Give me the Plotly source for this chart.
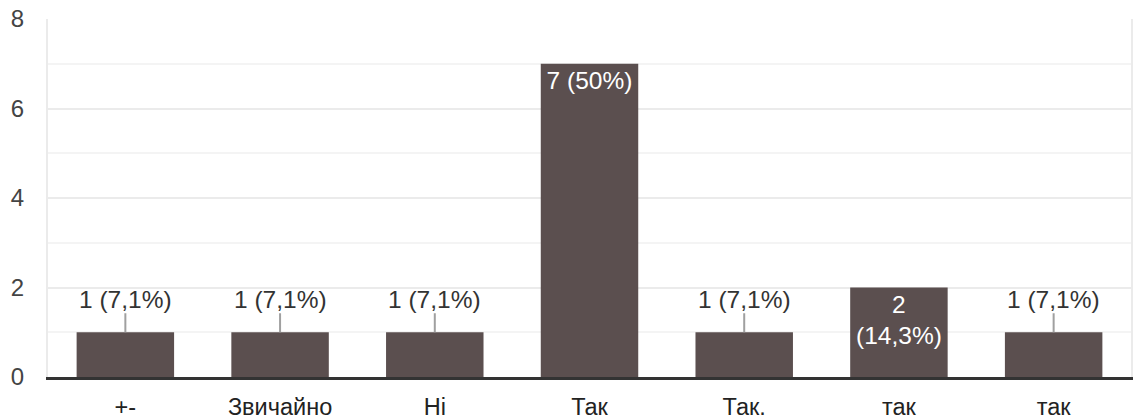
import plotly.graph_objects as go

categories = ["+-", "Звичайно", "Ні", "Так", "Так.", "так", "так"]
counts = [1, 1, 1, 7, 1, 2, 1]
labels = ["1 (7,1%)", "1 (7,1%)", "1 (7,1%)", "7 (50%)", "1 (7,1%)", "2<br>(14,3%)", "1 (7,1%)"]
y_ticks = [0, 2, 4, 6, 8]

BAR = "#5b4f4f"
FONT = "Arial, Liberation Sans, sans-serif"

x = list(range(len(categories)))
inside_text = [lab if c >= 2 else "" for lab, c in zip(labels, counts)]

fig = go.Figure()
fig.add_trace(go.Bar(
    x=x, y=counts, width=0.63, marker=dict(color=BAR, line=dict(width=0)),
    text=inside_text, textposition="inside", insidetextanchor="end",
    textangle=0, constraintext="none",
    textfont=dict(color="white", size=24.5, family=FONT),
    hoverinfo="skip",
))

annotations = []
for xi, c, lab in zip(x, counts, labels):
    if c < 2:
        annotations.append(dict(
            x=xi, y=c, xref="x", yref="y", text=lab,
            showarrow=True, arrowhead=0, arrowwidth=2, arrowcolor="#a0a0a0",
            ax=0, ay=-33, font=dict(size=24.5, color="#333333", family=FONT),
            borderpad=0,
        ))

fig.update_layout(
    width=1133, height=419,
    margin=dict(l=48, r=2, t=19, b=42, autoexpand=False),
    paper_bgcolor="white", plot_bgcolor="white",
    showlegend=False,
    annotations=annotations,
    font=dict(family=FONT),
    xaxis=dict(
        tickmode="array", tickvals=x, ticktext=categories,
        range=[-0.5, len(categories) - 0.5],
        showgrid=False, zeroline=False,
        showline=True, linecolor="#333333", linewidth=3,
        ticks="outside", ticklen=7, tickcolor="rgba(0,0,0,0)",
        tickfont=dict(size=23.5, color="#222222", family=FONT),
        automargin=False, fixedrange=True,
    ),
    yaxis=dict(
        range=[0, 8], tickmode="array", tickvals=y_ticks,
        showgrid=True, gridcolor="#ebebeb", gridwidth=2,
        minor=dict(dtick=1, showgrid=True, gridcolor="#f4f4f4", gridwidth=2),
        zeroline=False,
        showline=True, mirror=True, linecolor="#ebebeb", linewidth=2,
        ticks="outside", ticklen=17, tickcolor="rgba(0,0,0,0)",
        tickfont=dict(size=24, color="#444444", family=FONT),
        automargin=False, fixedrange=True,
    ),
)

fig.write_html(
    "out.html",
    config={"displayModeBar": False},
    post_script="document.body.style.margin='0';document.body.style.overflow='hidden';",
)
